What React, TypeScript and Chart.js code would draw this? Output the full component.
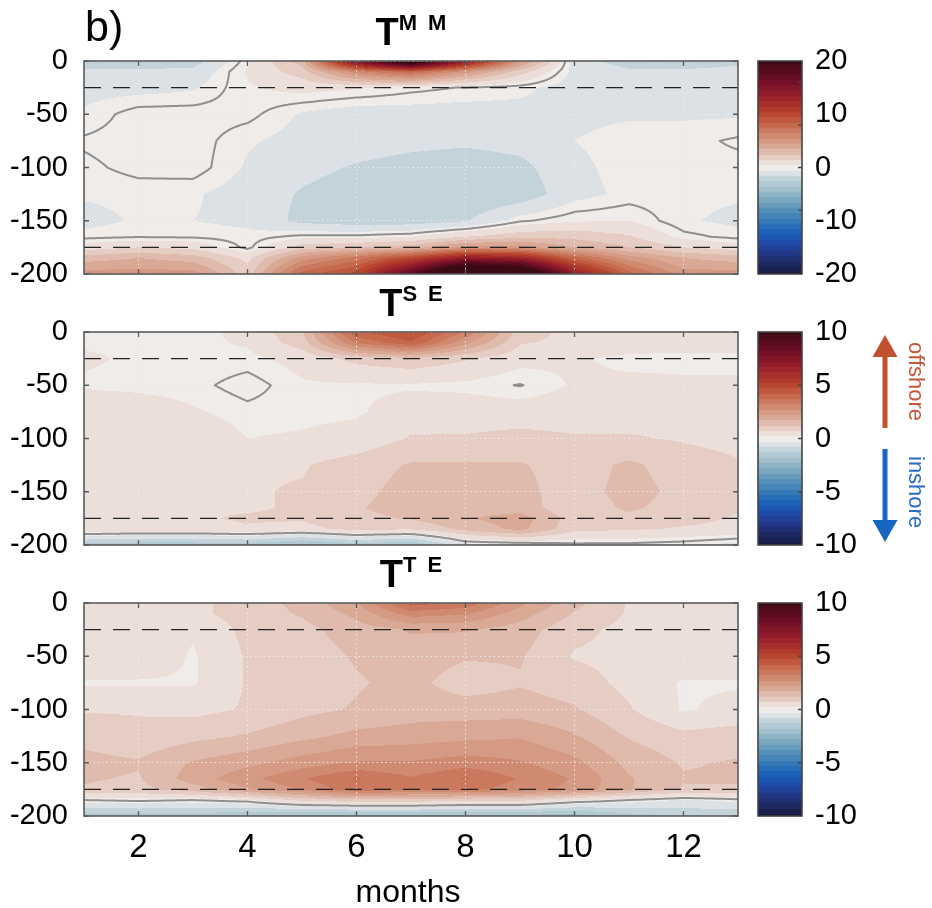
import React, { useEffect, useRef } from 'react';
import { Chart, registerables } from 'chart.js';

Chart.register(...registerables);

// ---------------- data ----------------
const MONTHS = [1, 2, 3, 4, 5, 6, 7, 8, 9, 10, 11, 12, 13];
const DEPTHS = [0, -10, -25, -50, -75, -100, -125, -150, -165, -175, -185, -200];
const X_TICKS = [2, 4, 6, 8, 10, 12];
const Y_TICKS = [0, -50, -100, -150, -200];
const DASHED_DEPTHS = [-25, -175];

// T^MM  (rows = DEPTHS, columns = MONTHS)
const TMM = [
  [-2.2, -2.2, -2.0, 0.3, 3, 16, 24, 14, 5, -1.0, -2.0, -2.2, -1.8],
  [-1.3, -1.3, -1.2, 0.6, 2, 6, 8, 5, 2, -0.8, -1.3, -1.3, -1.1],
  [-0.8, -0.8, -0.6, 0.4, 0.8, 0.6, 0.2, -0.05, -0.3, -0.9, -1.0, -1.0, -0.9],
  [-0.4, 0.3, 0.3, 0.2, -0.6, -1.0, -0.9, -0.9, -0.8, -0.7, -0.6, -0.6, -0.6],
  [0.1, 0.3, 0.3, -0.4, -0.8, -1.0, -1.2, -1.3, -1.1, -0.5, -0.2, -0.2, 0.1],
  [-0.15, 0.2, 0.3, -0.6, -1.2, -1.6, -1.9, -2.1, -1.8, -0.7, -0.2, -0.2, -0.2],
  [-0.4, -0.3, -0.4, -0.9, -1.6, -2.0, -2.5, -2.5, -2.2, -0.8, -0.3, -0.3, -0.4],
  [-0.8, -0.4, -0.5, -0.7, -1.8, -2.1, -2.1, -1.6, -0.1, 0.4, 0.5, -0.4, -0.7],
  [-0.2, -0.05, -0.1, -0.3, 0.2, 0.2, 0.5, 1.5, 2.2, 2.2, 1.6, 0.2, -0.2],
  [1.0, 1.5, 1.2, -0.2, 2.0, 2.5, 3.0, 5.0, 5.0, 3.5, 2.5, 1.5, 1.0],
  [3.0, 3.5, 3.0, 1.2, 5.0, 7.0, 10, 14, 13, 8, 5, 3.5, 3.0],
  [5, 5, 5, 2, 8, 10, 18, 28, 26, 14, 8, 5, 5],
];

// T^SE
const TSE = [
  [0.2, 0.2, 0.15, 0.35, 1.2, 4.2, 4.8, 3.2, 1.0, 0.6, 0.5, 0.5, 0.5],
  [0.2, 0.2, 0.15, 0.3, 1.0, 3.3, 4.2, 2.4, 0.8, 0.6, 0.5, 0.5, 0.5],
  [0.3, 0.2, 0.2, 0.15, 0.4, 0.9, 1.1, 0.8, 0.4, 0.3, 0.15, 0.1, 0.1],
  [0.2, 0.15, 0.1, -0.15, 0.2, 0.2, 0.2, 0.15, -0.02, 0.3, 0.35, 0.35, 0.35],
  [0.55, 0.5, 0.3, 0.1, 0.15, 0.2, 0.45, 0.5, 0.5, 0.5, 0.5, 0.5, 0.5],
  [0.7, 0.7, 0.6, 0.25, 0.3, 0.4, 0.8, 0.8, 0.9, 0.8, 0.8, 0.7, 0.6],
  [0.7, 0.7, 0.7, 0.7, 0.7, 1.0, 1.3, 1.3, 1.3, 1.0, 1.35, 1.0, 0.8],
  [0.7, 0.7, 0.7, 0.7, 0.8, 1.1, 1.45, 1.5, 1.4, 1.0, 1.45, 1.1, 0.8],
  [0.7, 0.7, 0.7, 0.7, 0.8, 1.2, 1.5, 1.5, 1.5, 0.9, 1.35, 1.0, 0.8],
  [0.7, 0.7, 0.7, 0.8, 0.8, 1.1, 1.3, 1.7, 2.0, 1.0, 1.1, 0.9, 0.7],
  [0.7, 0.6, 0.6, 0.7, 0.6, 0.9, 0.8, 1.4, 1.9, 0.9, 0.8, 0.7, 0.6],
  [-1.5, -1.6, -1.6, -1.5, -2.0, -1.5, -1.8, -0.4, -0.3, -0.1, -0.1, -0.2, -0.4],
];

// T^TE
const TTE = [
  [0.7, 0.2, 0.6, 1.0, 1.4, 2.2, 4.0, 3.6, 2.4, 1.4, 0.7, 0.6, 0.6],
  [0.7, 0.5, 0.6, 1.0, 1.3, 1.9, 3.0, 2.8, 2.0, 1.2, 0.7, 0.6, 0.6],
  [0.7, 0.6, 0.3, 0.9, 1.1, 1.5, 1.8, 1.8, 1.5, 0.9, 0.6, 0.6, 0.6],
  [0.6, 0.6, 0.2, 0.8, 1.0, 1.3, 1.5, 1.3, 1.3, 0.7, 0.6, 0.6, 0.6],
  [0.2, 0.2, 0.2, 0.8, 0.9, 1.2, 1.4, 1.0, 1.2, 1.0, 0.6, 0.2, 0.2],
  [0.7, 0.7, 0.6, 0.8, 1.1, 1.3, 1.5, 1.5, 1.5, 1.3, 0.8, 0.2, 0.4],
  [1.1, 0.9, 1.1, 1.3, 1.6, 1.9, 2.0, 2.1, 2.2, 1.8, 1.2, 0.9, 1.0],
  [1.4, 1.3, 1.8, 2.1, 2.5, 2.8, 2.8, 3.0, 2.8, 2.4, 1.6, 1.2, 1.3],
  [1.3, 1.2, 2.0, 2.6, 3.2, 3.8, 3.3, 3.8, 3.2, 2.7, 1.8, 1.3, 1.3],
  [1.2, 1.1, 1.5, 2.2, 2.8, 3.6, 3.3, 3.4, 3.0, 2.6, 1.8, 1.2, 1.2],
  [0.0, 0.1, 0.0, 0.2, 0.9, 1.1, 1.1, 0.9, 0.9, 0.3, 0.0, -0.3, -0.1],
  [-1.5, -1.5, -1.5, -1.8, -2.0, -2.0, -2.0, -2.0, -2.0, -2.0, -1.5, -1.2, -1.2],
];

const CB1_LABELS = [20, 10, 0, -10, -20];
const CB1_MARKS = [16, 8, 0, -8, -16];
const CB2_LABELS = [10, 5, 0, -5, -10];
const CB2_MARKS = [5, 0, -5];

// ---------------- styles ----------------
const FONT = "'Liberation Sans', Arial, Helvetica, sans-serif";
const CMAP_POS = [0, 0.05, 0.1, 0.15, 0.2, 0.25, 0.3, 0.35, 0.4, 0.45, 0.48, 0.5, 0.52, 0.55, 0.6, 0.65, 0.7, 0.75, 0.8, 0.85, 0.9, 0.95, 1];
const CMAP_HEX = ['#161a3d', '#1d2760', '#233685', '#1e4aa9', '#1b62b8', '#3579b6', '#5490b9', '#7aa8bf', '#a0bfcb', '#c2d3da', '#e0e4e6', '#f0ecea', '#ede2de', '#e5cdc4', '#daa996', '#cf8a70', '#c6694d', '#b8472f', '#a72e2b', '#911b2b', '#761026', '#5a0c1e', '#3c0a14'];
const NHALF = 20;
const PLOT_LEFT = 84;
const PLOT_H = 213;
const CANVAS_W = 750;
const PAD = 36;

function hexRgb(h: string) {
  return [parseInt(h.slice(1, 3), 16), parseInt(h.slice(3, 5), 16), parseInt(h.slice(5, 7), 16)];
}
function colorAt(t: number) {
  t = Math.max(0, Math.min(1, t));
  let i = 0;
  while (i < CMAP_POS.length - 2 && t > CMAP_POS[i + 1]) i++;
  const f = (t - CMAP_POS[i]) / (CMAP_POS[i + 1] - CMAP_POS[i]);
  const a = hexRgb(CMAP_HEX[i]);
  const b = hexRgb(CMAP_HEX[i + 1]);
  return [0, 1, 2].map((c) => Math.round(a[c] + (b[c] - a[c]) * f));
}
const PALETTE: number[][] = [];
for (let k = -NHALF; k <= NHALF; k++) PALETTE.push(colorAt(0.5 + k / (2 * NHALF)));

function makeField(grid: number[][]) {
  return (m: number, d: number) => {
    let i = Math.floor(m - MONTHS[0]);
    i = Math.max(0, Math.min(MONTHS.length - 2, i));
    const fx = Math.max(0, Math.min(1, (m - MONTHS[i]) / (MONTHS[i + 1] - MONTHS[i])));
    let j = 0;
    while (j < DEPTHS.length - 2 && d < DEPTHS[j + 1]) j++;
    const fy = Math.max(0, Math.min(1, (DEPTHS[j] - d) / (DEPTHS[j] - DEPTHS[j + 1])));
    const a = grid[j][i], b = grid[j][i + 1], c = grid[j + 1][i], e = grid[j + 1][i + 1];
    return a * (1 - fx) * (1 - fy) + b * fx * (1 - fy) + c * (1 - fx) * fy + e * fx * fy;
  };
}

function heatPlugin(grid: number[][], step: number) {
  const field = makeField(grid);
  return {
    id: 'heat',
    beforeDraw(chart: any) {
      const { ctx, chartArea: a, scales } = chart;
      const xs = scales.x, ys = scales.y;
      const W = Math.round(a.right - a.left), H = Math.round(a.bottom - a.top);
      const off = document.createElement('canvas');
      off.width = W; off.height = H;
      const octx = off.getContext('2d')!;
      const img = octx.createImageData(W, H);
      const mx: number[] = [];
      for (let i = 0; i < W; i++) mx.push(xs.getValueForPixel(a.left + i + 0.5));
      for (let j = 0; j < H; j++) {
        const d = ys.getValueForPixel(a.top + j + 0.5);
        for (let i = 0; i < W; i++) {
          let k = Math.round(field(mx[i], d) / step);
          k = Math.max(-NHALF, Math.min(NHALF, k));
          const c = PALETTE[k + NHALF];
          const p = (j * W + i) * 4;
          img.data[p] = c[0]; img.data[p + 1] = c[1]; img.data[p + 2] = c[2]; img.data[p + 3] = 255;
        }
      }
      octx.putImageData(img, 0, 0);
      ctx.drawImage(off, a.left, a.top);
    },
    afterDraw(chart: any) {
      const { ctx, chartArea: a, scales } = chart;
      const xs = scales.x, ys = scales.y;
      ctx.save();
      ctx.beginPath();
      ctx.rect(a.left, a.top, a.right - a.left, a.bottom - a.top);
      ctx.clip();
      const NX = 240, NY = 200;
      const m0 = MONTHS[0], m1 = MONTHS[MONTHS.length - 1];
      const d0 = DEPTHS[0], d1 = DEPTHS[DEPTHS.length - 1];
      const g: number[][] = [];
      for (let j = 0; j <= NY; j++) {
        const d = d0 + (d1 - d0) * j / NY;
        const row: number[] = [];
        for (let i = 0; i <= NX; i++) row.push(field(m0 + (m1 - m0) * i / NX, d));
        g.push(row);
      }
      const P = (fi: number, fj: number) => [
        xs.getPixelForValue(m0 + (m1 - m0) * fi / NX),
        ys.getPixelForValue(d0 + (d1 - d0) * fj / NY),
      ];
      ctx.beginPath();
      for (let j = 0; j < NY; j++) {
        for (let i = 0; i < NX; i++) {
          const A = g[j][i], B = g[j][i + 1], C = g[j + 1][i + 1], D = g[j + 1][i];
          const pts: number[][] = [];
          if ((A > 0) !== (B > 0)) pts.push([i + A / (A - B), j]);
          if ((B > 0) !== (C > 0)) pts.push([i + 1, j + B / (B - C)]);
          if ((C > 0) !== (D > 0)) pts.push([i + 1 - C / (C - D), j + 1]);
          if ((D > 0) !== (A > 0)) pts.push([i, j + 1 - D / (D - A)]);
          for (let k = 0; k + 1 < pts.length; k += 2) {
            const p1 = P(pts[k][0], pts[k][1]);
            const p2 = P(pts[k + 1][0], pts[k + 1][1]);
            ctx.moveTo(p1[0], p1[1]);
            ctx.lineTo(p2[0], p2[1]);
          }
        }
      }
      ctx.strokeStyle = '#8f8f8f';
      ctx.lineWidth = 2;
      ctx.lineCap = 'round';
      ctx.lineJoin = 'round';
      ctx.stroke();
      ctx.setLineDash([17, 12]);
      ctx.lineCap = 'butt';
      ctx.strokeStyle = '#222';
      ctx.lineWidth = 1.4;
      DASHED_DEPTHS.forEach((dd) => {
        const y = ys.getPixelForValue(dd);
        ctx.beginPath();
        ctx.moveTo(a.left, y);
        ctx.lineTo(a.right, y);
        ctx.stroke();
      });
      ctx.restore();
      ctx.save();
      ctx.strokeStyle = '#5a5a5a';
      ctx.lineWidth = 1.6;
      ctx.strokeRect(a.left, a.top, a.right - a.left, a.bottom - a.top);
      ctx.lineWidth = 1.3;
      ctx.beginPath();
      X_TICKS.forEach((v) => {
        const x = xs.getPixelForValue(v);
        ctx.moveTo(x, a.bottom); ctx.lineTo(x, a.bottom - 5);
        ctx.moveTo(x, a.top); ctx.lineTo(x, a.top + 5);
      });
      Y_TICKS.forEach((v) => {
        const y = ys.getPixelForValue(v);
        ctx.moveTo(a.left, y); ctx.lineTo(a.left + 5, y);
        ctx.moveTo(a.right, y); ctx.lineTo(a.right - 5, y);
      });
      ctx.stroke();
      ctx.restore();
    },
  };
}

function HeatPanel({ grid, step, top, showX }: { grid: number[][]; step: number; top: number; showX: boolean }) {
  const ref = useRef<HTMLCanvasElement>(null);
  const xAxisH = showX ? 908 - (top + PLOT_H) : 0;
  const H = PAD + PLOT_H + (showX ? xAxisH : PAD);
  useEffect(() => {
    const gridStyle = { color: 'rgba(236,236,236,0.95)', lineWidth: 1, drawTicks: false };
    const chart = new Chart(ref.current as HTMLCanvasElement, {
      type: 'scatter',
      data: { datasets: [] },
      options: {
        animation: false,
        responsive: false,
        events: [],
        layout: { padding: { left: 0, right: CANVAS_W - 738, top: PAD, bottom: showX ? 0 : PAD } },
        plugins: { legend: { display: false }, tooltip: { enabled: false } },
        scales: {
          x: {
            type: 'linear',
            min: MONTHS[0],
            max: MONTHS[MONTHS.length - 1],
            afterBuildTicks: (s: any) => { s.ticks = X_TICKS.map((v) => ({ value: v })); },
            afterFit: (s: any) => { s.height = xAxisH; },
            grid: gridStyle,
            border: { display: false, dash: [1.5, 3] },
            ticks: { display: showX, font: { family: FONT, size: 33 }, color: '#000', padding: 12, maxRotation: 0, autoSkip: false },
          },
          y: {
            type: 'linear',
            min: DEPTHS[DEPTHS.length - 1],
            max: DEPTHS[0],
            afterBuildTicks: (s: any) => { s.ticks = Y_TICKS.map((v) => ({ value: v })); },
            afterFit: (s: any) => { s.width = PLOT_LEFT; },
            grid: gridStyle,
            border: { display: false, dash: [1.5, 3] },
            ticks: { font: { family: FONT, size: 29 }, color: '#000', padding: 16, autoSkip: false },
          },
        },
      } as any,
      plugins: [heatPlugin(grid, step)],
    });
    return () => chart.destroy();
  }, []);
  return (
    <canvas
      ref={ref}
      width={CANVAS_W}
      height={H}
      style={{ position: 'absolute', left: 0, top: top - PAD, width: CANVAS_W, height: H }}
    />
  );
}

function colorbarPlugin(range: number, step: number, marks: number[], arrows: boolean) {
  return {
    id: 'cbar',
    beforeDraw(chart: any) {
      const { ctx, chartArea: a, scales } = chart;
      const ys = scales.y;
      for (let k = -NHALF; k <= NHALF; k++) {
        const lo = Math.max(-range, (k - 0.5) * step);
        const hi = Math.min(range, (k + 0.5) * step);
        const y0 = ys.getPixelForValue(hi);
        const y1 = ys.getPixelForValue(lo);
        const c = PALETTE[k + NHALF];
        ctx.fillStyle = `rgb(${c[0]},${c[1]},${c[2]})`;
        ctx.fillRect(a.left, Math.floor(y0), a.right - a.left, Math.ceil(y1) - Math.floor(y0));
      }
    },
    afterDraw(chart: any) {
      const { ctx, chartArea: a, scales } = chart;
      const ys = scales.y;
      ctx.save();
      ctx.strokeStyle = '#444';
      ctx.lineWidth = 1.6;
      ctx.strokeRect(a.left, a.top, a.right - a.left, a.bottom - a.top);
      ctx.lineWidth = 1.3;
      ctx.beginPath();
      marks.forEach((v) => {
        const y = ys.getPixelForValue(v);
        ctx.moveTo(a.right, y);
        ctx.lineTo(a.right - 4, y);
      });
      ctx.stroke();
      if (arrows) {
        const cx = 135;
        const oy = 332 - PAD;
        ctx.fillStyle = '#c1502f';
        ctx.fillRect(cx - 2.5, 357 - oy, 5, 71);
        ctx.beginPath();
        ctx.moveTo(cx - 12.5, 357 - oy); ctx.lineTo(cx + 12.5, 357 - oy); ctx.lineTo(cx, 335 - oy); ctx.closePath();
        ctx.fill();
        ctx.fillStyle = '#1766c2';
        ctx.fillRect(cx - 2.5, 449 - oy, 5, 71);
        ctx.beginPath();
        ctx.moveTo(cx - 12.5, 520 - oy); ctx.lineTo(cx + 12.5, 520 - oy); ctx.lineTo(cx, 542 - oy); ctx.closePath();
        ctx.fill();
      }
      ctx.restore();
    },
  };
}

function ColorBar({ range, step, labels, marks, top, arrows }: { range: number; step: number; labels: number[]; marks: number[]; top: number; arrows?: boolean }) {
  const ref = useRef<HTMLCanvasElement>(null);
  const W = 182, H = PLOT_H + 2 * PAD;
  useEffect(() => {
    const chart = new Chart(ref.current as HTMLCanvasElement, {
      type: 'scatter',
      data: { datasets: [] },
      options: {
        animation: false,
        responsive: false,
        events: [],
        layout: { padding: { left: 8, right: 0, top: PAD, bottom: PAD } },
        plugins: { legend: { display: false }, tooltip: { enabled: false } },
        scales: {
          x: { type: 'linear', min: 0, max: 1, display: false },
          y: {
            type: 'linear',
            position: 'right',
            min: -range,
            max: range,
            afterBuildTicks: (s: any) => { s.ticks = labels.map((v) => ({ value: v })); },
            afterFit: (s: any) => { s.width = W - 8 - 44; },
            grid: { display: false, drawTicks: false },
            border: { display: false },
            ticks: { font: { family: FONT, size: 29 }, color: '#000', padding: 13, autoSkip: false },
          },
        },
      } as any,
      plugins: [colorbarPlugin(range, step, marks, !!arrows)],
    });
    return () => chart.destroy();
  }, []);
  return (
    <canvas
      ref={ref}
      width={W}
      height={H}
      style={{ position: 'absolute', left: CANVAS_W, top: top - PAD, width: W, height: H }}
    />
  );
}

function Title({ sup, baseline }: { sup: string; baseline: number }) {
  const f = 38;
  return (
    <div
      style={{
        position: 'absolute', left: 411 - 150, width: 300, top: baseline - 0.8465 * f,
        textAlign: 'center', fontFamily: FONT, fontWeight: 'bold', fontSize: f, lineHeight: `${f}px`,
        whiteSpace: 'pre', color: '#000',
      }}
    >
      T<span style={{ fontSize: 22, position: 'relative', top: -15 }}>{sup}</span>
    </div>
  );
}

function VText({ text, color, left, top }: { text: string; color: string; left: number; top: number }) {
  const f = 22;
  return (
    <div
      style={{
        position: 'absolute', left, top, fontFamily: FONT, fontSize: f, lineHeight: `${f}px`,
        color, whiteSpace: 'nowrap', transform: 'rotate(90deg)', transformOrigin: '0 0',
      }}
    >
      {text}
    </div>
  );
}

export default function App() {
  return (
    <div style={{ position: 'absolute', left: 0, top: 0, width: 932, height: 908, background: '#fff', overflow: 'hidden' }}>
      <HeatPanel grid={TMM} step={1} top={61} showX={false} />
      <HeatPanel grid={TSE} step={0.5} top={332} showX={false} />
      <HeatPanel grid={TTE} step={0.5} top={603} showX={true} />
      <ColorBar range={20} step={1} labels={CB1_LABELS} marks={CB1_MARKS} top={61} />
      <ColorBar range={10} step={0.5} labels={CB2_LABELS} marks={CB2_MARKS} top={332} arrows />
      <ColorBar range={10} step={0.5} labels={CB2_LABELS} marks={CB2_MARKS} top={603} />
      <Title sup={'M\u2002M'} baseline={45} />
      <Title sup={'S\u2002E'} baseline={316} />
      <Title sup={'T\u2002E'} baseline={587} />
      <div style={{ position: 'absolute', left: 85, top: 41.7 - 0.8465 * 43, fontFamily: FONT, fontSize: 43, lineHeight: '43px', color: '#000' }}>b)</div>
      <div style={{ position: 'absolute', left: 408 - 100, width: 200, top: 902 - 0.8465 * 32, textAlign: 'center', fontFamily: FONT, fontSize: 32, lineHeight: '32px', color: '#000' }}>months</div>
      <VText text="offshore" color="#c4573c" left={926.6} top={342} />
      <VText text="inshore" color="#2a6cc4" left={926.6} top={456} />
    </div>
  );
}
